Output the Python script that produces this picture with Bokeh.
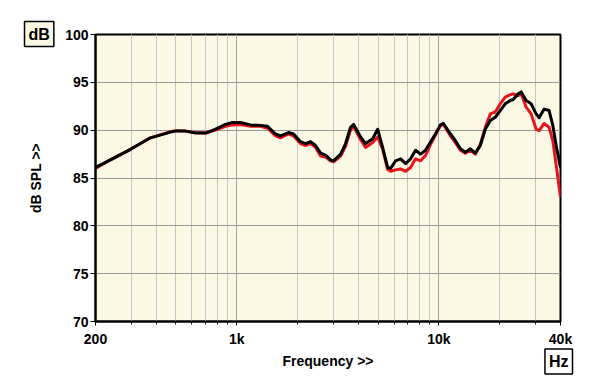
from bokeh.plotting import figure
from bokeh.models import FixedTicker, CustomJSTickFormatter, Title, ColumnDataSource
from bokeh.embed import file_html
from bokeh.resources import INLINE

freq = [200, 237, 298, 374, 470, 498, 558, 625, 701, 785, 880, 953, 1044, 1170, 1311,
        1420, 1556, 1646, 1804, 1910, 2068, 2190, 2320, 2455, 2600, 2750, 2910, 3015,
        3265, 3455, 3657, 3788, 4100, 4340, 4706, 4980, 5270, 5580, 5775, 6110, 6470,
        6850, 7250, 7670, 8120, 8590, 9090, 9620, 10180, 10540, 11420, 12080, 12790,
        13530, 14320, 15160, 16040, 16980, 17970, 19020, 20130, 21300, 22550, 23330,
        24700, 25560, 27040, 28630, 30300, 31360, 33190, 35120, 36650, 38210, 40000]
black_db = [86.1, 86.9, 88.0, 89.2, 89.8, 89.9, 89.9, 89.7, 89.7, 90.1, 90.6, 90.8, 90.8,
            90.55, 90.5, 90.4, 89.6, 89.4, 89.75, 89.6, 88.8, 88.6, 88.8, 88.4, 87.6,
            87.4, 86.9, 86.8, 87.5, 88.6, 90.3, 90.6, 89.3, 88.6, 89.1, 90.1, 88.2,
            86.1, 86.0, 86.8, 87.0, 86.5, 87.0, 87.9, 87.5, 87.9, 88.75, 89.6, 90.55,
            90.7, 89.6, 88.9, 88.05, 87.7, 88.05, 87.6, 88.4, 90.1, 91.0, 91.35, 92.05,
            92.75, 93.1, 93.2, 93.8, 94.0, 93.1, 92.75, 91.7, 91.3, 92.2, 92.05, 90.5,
            88.2, 86.1]
red_db = [86.0, 86.9, 88.0, 89.2, 89.85, 89.95, 89.9, 89.75, 89.7, 90.0, 90.4, 90.55,
          90.6, 90.4, 90.4, 90.2, 89.4, 89.2, 89.6, 89.4, 88.6, 88.4, 88.6, 88.2, 87.3,
          87.2, 86.8, 86.7, 87.3, 88.3, 90.0, 90.4, 89.0, 88.2, 88.7, 89.3, 88.0,
          85.9, 85.7, 85.85, 85.95, 85.7, 86.1, 87.0, 86.8, 87.35, 88.5, 89.5, 90.45,
          90.6, 89.4, 88.7, 87.9, 87.6, 87.9, 87.5, 88.5, 90.3, 91.7, 91.9, 92.75,
          93.45, 93.7, 93.8, 93.6, 93.8, 92.4, 91.7, 90.1, 89.95, 90.7, 90.3, 88.9,
          86.1, 83.0]

x_major = [200, 1000, 10000, 40000]
x_minor = [300, 400, 500, 600, 700, 800, 900, 2000, 3000, 4000, 5000, 6000, 7000,
           8000, 9000, 20000, 30000]
y_ticks = [70, 75, 80, 85, 90, 95, 100]

FONT = "Liberation Sans"
CREAM = "#fbf9e4"

p = figure(width=600, height=389, x_axis_type="log", x_range=(200, 40000), y_range=(70, 100),
           output_backend="svg", toolbar_location=None,
           min_border_left=95, min_border_right=40, min_border_top=34, min_border_bottom=68)
p.background_fill_color = CREAM
p.border_fill_color = "white"
p.outline_line_color = "black"
p.outline_line_width = 2

src = ColumnDataSource(dict(f=freq, black=black_db, red=red_db))
p.line("f", "red", source=src, line_color="#e8141b", line_width=3, line_join="round")
p.line("f", "black", source=src, line_color="black", line_width=3, line_join="round")

p.xaxis.ticker = FixedTicker(ticks=x_major, minor_ticks=x_minor)
p.xaxis.formatter = CustomJSTickFormatter(code="return tick >= 1000 ? (tick/1000) + 'k' : tick.toFixed(0);")
p.xaxis.axis_label = "Frequency >>"
p.xaxis.major_tick_in = 0
p.xaxis.major_tick_out = 4
p.xaxis.minor_tick_in = 0
p.xaxis.minor_tick_out = 3
p.xaxis.major_label_standoff = 5
p.xaxis.axis_label_standoff = 3

p.yaxis.ticker = FixedTicker(ticks=y_ticks)
p.yaxis.axis_label = "dB SPL >>"
p.yaxis.major_tick_in = 0
p.yaxis.major_tick_out = 5
p.yaxis.minor_tick_line_color = None
p.yaxis.major_label_standoff = 2
p.yaxis.axis_label_standoff = 18

for ax in (p.xaxis, p.yaxis):
    ax.axis_line_color = "black"
    ax.axis_line_width = 2
    ax.major_tick_line_color = "black"
    ax.major_label_text_font = FONT
    ax.major_label_text_font_style = "bold"
    ax.major_label_text_font_size = "14px"
    ax.major_label_text_color = "black"
    ax.axis_label_text_font = FONT
    ax.axis_label_text_font_style = "bold"
    ax.axis_label_text_font_size = "14px"
    ax.axis_label_text_color = "black"
p.xaxis.minor_tick_line_color = "black"

p.xgrid.grid_line_color = "#a4a4aa"
p.xgrid.minor_grid_line_color = "#c8c6cc"
p.ygrid.grid_line_color = "#9a9a9a"

# Unit boxes as titles in the side panels
db_title = Title(text="dB", align="left", vertical_align="bottom", offset=-71, standoff=-24,
                 text_font=FONT, text_font_style="bold", text_font_size="16px", text_color="black",
                 background_fill_color=CREAM, border_line_color="black", border_line_width=1.5,
                 padding=4)
hz_title = Title(text="Hz", align="right", vertical_align="top", offset=-12, standoff=-45,
                 text_font=FONT, text_font_style="bold", text_font_size="16px", text_color="black",
                 background_fill_color="white", border_line_color="black", border_line_width=1.5,
                 padding=4)
p.add_layout(db_title, "above")
p.add_layout(hz_title, "below")

open("out.html", "w").write(file_html(p, INLINE))
